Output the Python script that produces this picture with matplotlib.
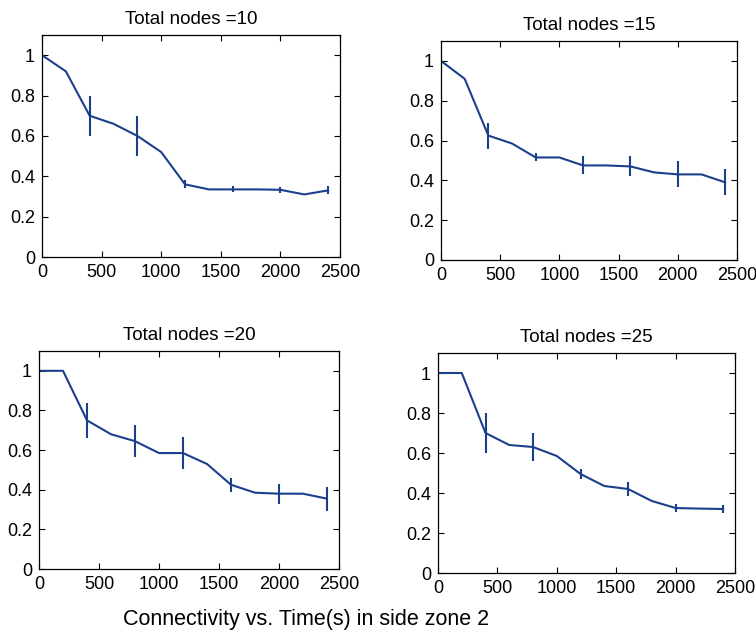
import matplotlib
matplotlib.use("Agg")
import matplotlib.pyplot as plt

plt.rcParams['font.family'] = ['Liberation Sans', 'DejaVu Sans']

time_s = [0, 200, 400, 600, 800, 1000, 1200, 1400, 1600, 1800, 2000, 2200, 2400]
titles = ["Total nodes =10", "Total nodes =15", "Total nodes =20", "Total nodes =25"]

conn_10 = [1.0, 0.92, 0.70, 0.66, 0.60, 0.52, 0.36, 0.335, 0.335, 0.335, 0.333, 0.31, 0.33]
conn_15 = [1.0, 0.91, 0.625, 0.585, 0.515, 0.515, 0.475, 0.475, 0.47, 0.44, 0.43, 0.43, 0.39]
conn_20 = [1.0, 1.0, 0.75, 0.68, 0.645, 0.585, 0.585, 0.53, 0.425, 0.385, 0.38, 0.38, 0.355]
conn_25 = [1.0, 1.0, 0.70, 0.64, 0.63, 0.585, 0.495, 0.435, 0.42, 0.36, 0.325, 0.322, 0.32]

err_time = [400, 800, 1200, 1600, 2000, 2400]
err_10 = [0.10, 0.10, 0.02, 0.015, 0.015, 0.02]
err_15 = [0.065, 0.02, 0.045, 0.05, 0.065, 0.065]
err_20 = [0.09, 0.08, 0.08, 0.035, 0.05, 0.06]
err_25 = [0.10, 0.07, 0.025, 0.035, 0.02, 0.02]

series = [conn_10, conn_15, conn_20, conn_25]
errors = [err_10, err_15, err_20, err_25]

W, H = 756, 637
# axes boxes in pixels: left, right, top, bottom
boxes = [(42, 340, 35, 257), (441, 737, 41, 260), (39, 339, 351, 569), (438, 735, 353, 573)]

color = '#1c3f8c'
fig = plt.figure(figsize=(W / 100, H / 100), dpi=100)

for (l, r, t, b), y, e, title in zip(boxes, series, errors, titles):
    ax = fig.add_axes([l / W, 1 - b / H, (r - l) / W, (b - t) / H])
    ax.plot(time_s, y, color=color, lw=1.5)
    ey = [y[time_s.index(x)] for x in err_time]
    ax.errorbar(err_time, ey, yerr=e, fmt='none', ecolor=color, elinewidth=1.5, capsize=0)
    ax.set_xlim(0, 2500)
    ax.set_ylim(0, 1.1)
    ax.set_xticks([0, 500, 1000, 1500, 2000, 2500])
    ax.set_yticks([0, 0.2, 0.4, 0.6, 0.8, 1])
    ax.set_yticklabels(['0', '0.2', '0.4', '0.6', '0.8', '1'])
    ax.tick_params(direction='in', top=True, right=True, length=4, width=0.8, labelsize=13, pad=5)
    for s in ax.spines.values():
        s.set_linewidth(0.9)
    ax.set_title(title, fontsize=13.5, pad=8)

fig.text(306 / W, 1 - 619 / H, "Connectivity vs. Time(s) in side zone 2", fontsize=15.5,
         ha='center', va='center')

fig.savefig("out.png", dpi=100)
